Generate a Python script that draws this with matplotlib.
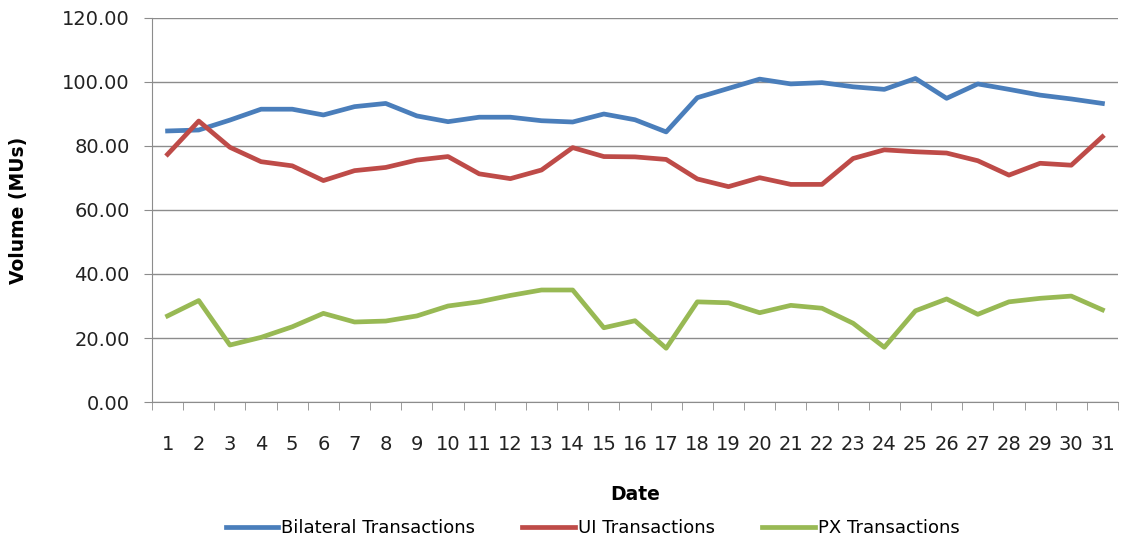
import matplotlib
matplotlib.use("Agg")
import matplotlib.pyplot as plt
from matplotlib.ticker import FormatStrFormatter, FixedLocator
import numpy as np

days = list(range(1, 32))

bilateral = [84.7, 85.0, 88.1, 91.5, 91.5, 89.7, 92.3, 93.3, 89.4, 87.6,
             89.0, 89.0, 87.9, 87.5, 90.0, 88.2, 84.4, 95.1, 98.0, 100.9,
             99.4, 99.8, 98.5, 97.7, 101.1, 94.9, 99.4, 97.7, 95.9, 94.7, 93.3]
ui = [77.4, 87.8, 79.6, 75.1, 73.8, 69.2, 72.3, 73.3, 75.6, 76.7,
      71.3, 69.8, 72.5, 79.5, 76.7, 76.6, 75.8, 69.7, 67.3, 70.1,
      68.0, 68.0, 76.1, 78.8, 78.2, 77.8, 75.4, 70.9, 74.6, 74.0, 82.9]
px = [26.9, 31.7, 17.8, 20.2, 23.5, 27.7, 25.0, 25.3, 26.9, 30.0,
      31.3, 33.3, 35.0, 35.0, 23.2, 25.4, 16.8, 31.3, 31.0, 27.9,
      30.2, 29.3, 24.6, 17.1, 28.5, 32.2, 27.4, 31.3, 32.4, 33.1, 28.8]

series_names = ["Bilateral Transactions", "UI Transactions", "PX Transactions"]
colours = ["#4a7ebb", "#be4b48", "#98b954"]

fig = plt.figure(figsize=(11.27, 5.45), dpi=100)
ax = fig.add_axes([152/1127, 143/545, 966/1127, 384/545])

for vals, name, c in zip([bilateral, ui, px], series_names, colours):
    ax.plot(days, vals, color=c, lw=3.4, label=name, solid_joinstyle="round")

ax.set_xlim(0.5, 31.5)
ax.set_ylim(0, 120)
ax.set_yticks(np.arange(0, 121, 20))
ax.yaxis.set_major_formatter(FormatStrFormatter("%.2f"))
ax.grid(axis="y", color="#8c8c8c", lw=1)
ax.set_axisbelow(True)

ax.set_xticks(days)
ax.set_xticklabels([str(d) for d in days])
ax.xaxis.set_minor_locator(FixedLocator(np.arange(0.5, 32, 1)))
ax.tick_params(axis="x", which="major", length=0, pad=24, labelsize=14, colors="#222222")
ax.tick_params(axis="x", which="minor", length=6, color="#8c8c8c", direction="out")
ax.tick_params(axis="y", length=6, color="#8c8c8c", pad=10, labelsize=14, labelcolor="#222222")

for s in ["top", "right"]:
    ax.spines[s].set_visible(False)
for s in ["left", "bottom"]:
    ax.spines[s].set_color("#8c8c8c")

ax.set_ylabel("Volume (MUs)", fontsize=13.5, fontweight="bold")
ax.yaxis.set_label_coords(-0.128, 0.5)
ax.set_xlabel("Date", fontsize=13.5, fontweight="bold")
ax.xaxis.set_label_coords(0.5, -0.215)

fig.legend(loc="center", bbox_to_anchor=(0.526, 17/545), ncol=3, frameon=False,
           fontsize=13, handlelength=2.9, handletextpad=0.2, columnspacing=2.6)

plt.savefig("out.png", dpi=100)
